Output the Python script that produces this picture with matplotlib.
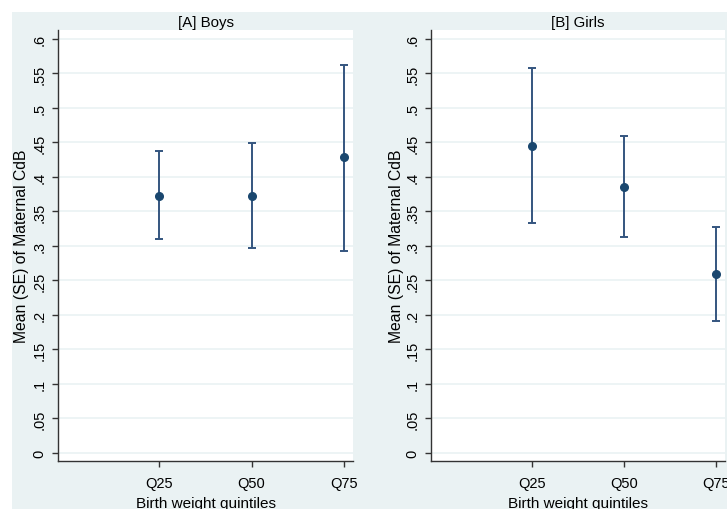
import matplotlib
matplotlib.use("Agg")
import matplotlib.pyplot as plt
from matplotlib.patches import Rectangle

plt.rcParams['font.family'] = ['Liberation Sans', 'DejaVu Sans']

quintiles = ["Q25", "Q50", "Q75"]
xpos = [1, 2, 3]

# Boys
boys_mean = [0.373, 0.373, 0.429]
boys_low = [0.310, 0.297, 0.293]
boys_high = [0.437, 0.449, 0.563]

# Girls
girls_mean = [0.445, 0.386, 0.259]
girls_low = [0.333, 0.313, 0.192]
girls_high = [0.558, 0.459, 0.327]

yticks = [0, .05, .1, .15, .2, .25, .3, .35, .4, .45, .5, .55, .6]
ytick_labels = ["0", ".05", ".1", ".15", ".2", ".25", ".3", ".35", ".4", ".45", ".5", ".55", ".6"]

bg = '#eaf2f3'
navy = '#1a476f'
bar_col = '#34557f'
spine_col = '#333333'

W, H = 727, 510
fig = plt.figure(figsize=(W / 100, H / 100), dpi=100)
fig.patch.set_facecolor('white')
fig.patches.append(Rectangle((12 / W, 0), 1, 1 - 13 / H, transform=fig.transFigure,
                             facecolor=bg, edgecolor='none', zorder=-10))


def panel(left_px, right_px, title, mean, low, high, ylab_x):
    ax = fig.add_axes([left_px / W, 48 / H, (right_px - left_px) / W, 431 / H])
    ax.set_facecolor('white')
    yerr = [[m - l for m, l in zip(mean, low)], [h - m for m, h in zip(mean, high)]]
    ax.errorbar(xpos, mean, yerr=yerr, fmt='none', ecolor=bar_col, elinewidth=1.4,
                capsize=3.2, capthick=1.4, zorder=3)
    ax.plot(xpos, mean, 'o', color=navy, markersize=5.5, zorder=4)
    ax.set_xlim(-0.1, 3.1)
    ax.set_ylim(-0.0116, 0.613)
    ax.set_xticks(xpos)
    ax.set_xticklabels(quintiles)
    ax.set_yticks(yticks)
    ax.set_yticklabels(ytick_labels, rotation=90, va='center')
    ax.grid(axis='y', color=bg, linewidth=1.2)
    ax.set_axisbelow(True)
    for s in ['top', 'right']:
        ax.spines[s].set_visible(False)
    for s in ['left', 'bottom']:
        ax.spines[s].set_color(spine_col)
        ax.spines[s].set_linewidth(1.0)
    ax.tick_params(axis='y', length=4.3, width=1, color=spine_col, pad=4, labelsize=10.5)
    ax.tick_params(axis='x', length=4.3, width=1, color=spine_col, pad=6.5, labelsize=10.5)
    ax.set_ylabel('Mean (SE) of Maternal CdB', fontsize=11.3)
    ax.yaxis.set_label_coords(ylab_x, 0.5)
    ax.set_xlabel('Birth weight quintiles', fontsize=11)
    ax.xaxis.set_label_coords(0.5, -0.081)
    ax.set_title(title, fontsize=10.8, pad=3)
    return ax


panel(58, 353, '[A] Boys', boys_mean, boys_low, boys_high, -0.098)
panel(431, 725, '[B] Girls', girls_mean, girls_low, girls_high, -0.092)

fig.savefig('out.png', dpi=100, facecolor=fig.get_facecolor())
